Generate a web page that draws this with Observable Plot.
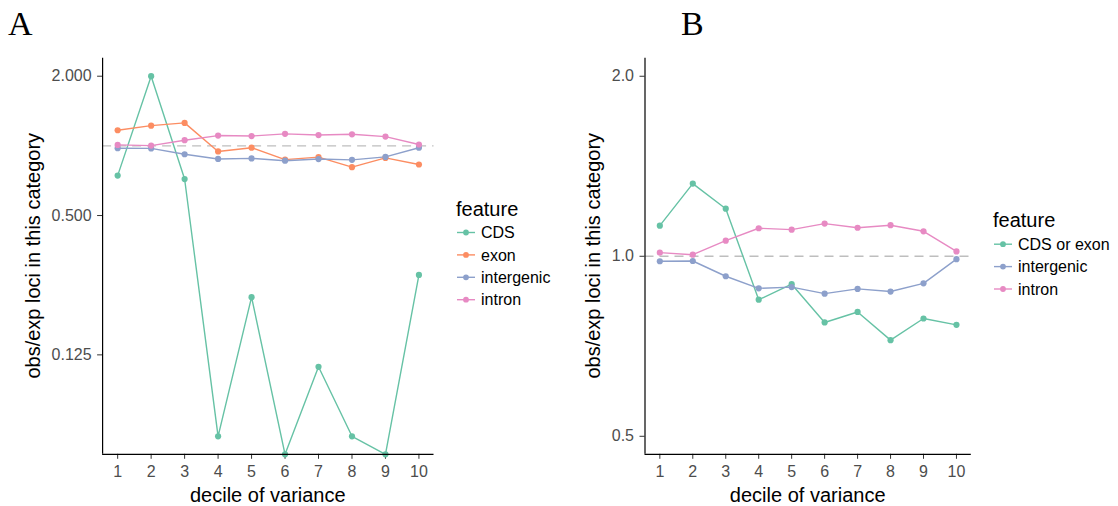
<!DOCTYPE html>
<html>
<head>
<meta charset="utf-8">
<script src="https://cdn.jsdelivr.net/npm/d3@7"></script>
<script src="https://cdn.jsdelivr.net/npm/@observablehq/plot@0.6"></script>
<style>
  body { margin: 0; background: #fff; }
  #fig { position: relative; width: 1118px; height: 506px; overflow: hidden; background: #fff; }
  .panel { position: absolute; top: 0; }
  .panel svg text { font-family: "Liberation Sans", Arial, sans-serif; font-size: 16px; fill: #4d4d4d; }
  #overlay { position: absolute; left: 0; top: 0; pointer-events: none; }
  #overlay text { font-family: "Liberation Sans", Arial, sans-serif; fill: #000; }
  #overlay .tag { font-family: "Liberation Serif", "DejaVu Serif", serif; font-size: 34px; }
  #overlay .title { font-size: 20px; }
  #overlay .item { font-size: 16px; }
</style>
</head>
<body>
<div id="fig">
  <div class="panel" id="panelA" style="left:0px"></div>
  <div class="panel" id="panelB" style="left:540px"></div>
</div>
<script>
// Deciles of variance (x axis)
const deciles = [1, 2, 3, 4, 5, 6, 7, 8, 9, 10];

// Panel A: obs/exp loci per feature (0 = no loci observed)
const featuresA = ["CDS", "exon", "intergenic", "intron"];
const cdsA        = [0.744, 2.000, 0.719, 0.0556, 0.222, 0, 0.111, 0.0556, 0, 0.277];
const exonA       = [1.168, 1.223, 1.257, 0.946, 0.982, 0.872, 0.894, 0.809, 0.887, 0.831];
const intergenicA = [0.977, 0.975, 0.920, 0.878, 0.883, 0.863, 0.877, 0.870, 0.896, 0.982];
const intronA     = [1.010, 1.003, 1.058, 1.108, 1.103, 1.127, 1.114, 1.122, 1.097, 1.014];

// Panel B: CDS and exon pooled
const featuresB = ["CDS or exon", "intergenic", "intron"];
const cdsExonB    = [1.125, 1.323, 1.201, 0.846, 0.898, 0.775, 0.807, 0.724, 0.787, 0.768];
const intergenicB = [0.981, 0.982, 0.926, 0.884, 0.888, 0.866, 0.882, 0.873, 0.901, 0.989];
const intronB     = [1.014, 1.006, 1.062, 1.114, 1.108, 1.134, 1.116, 1.127, 1.101, 1.019];

// Axis ticks
const xTicks = deciles;
const yTicksA = [0.125, 0.5, 2];
const yTicksB = [0.5, 1, 2];

// Axis and legend text
const xTitle = "decile of variance";
const yTitle = "obs/exp loci in this category";
const legendTitle = "feature";
const panelTags = ["A", "B"];

// Set2 palette
const colorsA = ["#66c2a5", "#fc8d62", "#8da0cb", "#e78ac3"];
const colorsB = ["#66c2a5", "#8da0cb", "#e78ac3"];

function tidy(features, series) {
  const rows = [];
  features.forEach((f, k) => {
    deciles.forEach((d, i) => rows.push({feature: f, decile: d, value: series[k][i]}));
  });
  return rows;
}

const dataA = tidy(featuresA, [cdsA, exonA, intergenicA, intronA]);
const dataB = tidy(featuresB, [cdsExonB, intergenicB, intronB]);

const xDomain = [0.55, 10.45];

function panel({data, features, colors, yDomain, yTicks, fmt, marginLeft, marginRight}) {
  return Plot.plot({
    width: 445,
    height: 506,
    marginLeft,
    marginRight,
    marginTop: 57.7,
    marginBottom: 52.2,
    style: {background: "transparent", color: "#333", overflow: "visible"},
    x: {type: "linear", domain: xDomain, ticks: xTicks, tickFormat: d => String(d),
        tickSize: 5, tickPadding: 6, label: null},
    y: {type: "log", domain: yDomain, clamp: true, ticks: yTicks, tickFormat: fmt,
        tickSize: 5, tickPadding: 6, label: null},
    color: {domain: features, range: colors},
    marks: [
      Plot.ruleY([1], {stroke: "#bebebe", strokeWidth: 1.3, strokeDasharray: "9,6"}),
      Plot.line(data, {x: "decile", y: "value", stroke: "feature", strokeWidth: 1.4}),
      Plot.dot(data, {x: "decile", y: "value", fill: "feature", r: 3.1}),
      Plot.ruleX([xDomain[0]], {stroke: "#000", strokeWidth: 1.2}),
      Plot.ruleY([yDomain[0]], {stroke: "#000", strokeWidth: 1.2})
    ]
  });
}

document.getElementById("panelA").appendChild(panel({
  data: dataA, features: featuresA, colors: colorsA,
  yDomain: [0.04648, 2.3926], yTicks: yTicksA, fmt: d3.format(".3f"),
  marginLeft: 102.1, marginRight: 11.5
}));

document.getElementById("panelB").appendChild(panel({
  data: dataB, features: featuresB, colors: colorsB,
  yDomain: [0.4665, 2.144], yTicks: yTicksB, fmt: d3.format(".1f"),
  marginLeft: 104.5, marginRight: 14.2
}));

// Titles, panel tags and legends
const svg = d3.select("#fig").append("svg")
  .attr("id", "overlay").attr("width", 1118).attr("height", 506);

const panelsLayout = [
  {tag: panelTags[0], tagX: 8, xMid: 267.8, yTitleX: 40, legX: 456, legTitleY: 216,
   firstRowY: 232.5, features: featuresA, colors: colorsA},
  {tag: panelTags[1], tagX: 681, xMid: 807.7, yTitleX: 600, legX: 993, legTitleY: 226.7,
   firstRowY: 244.2, features: featuresB, colors: colorsB}
];

const panelMidY = (57.7 + 453.8) / 2;

for (const p of panelsLayout) {
  svg.append("text").attr("class", "tag").attr("x", p.tagX).attr("y", 35).text(p.tag);
  svg.append("text").attr("class", "title").attr("text-anchor", "middle")
    .attr("x", p.xMid).attr("y", 501.5).text(xTitle);
  svg.append("text").attr("class", "title").attr("text-anchor", "middle")
    .attr("transform", `translate(${p.yTitleX},${panelMidY}) rotate(-90)`).text(yTitle);
  svg.append("text").attr("class", "title").attr("x", p.legX).attr("y", p.legTitleY).text(legendTitle);
  p.features.forEach((f, i) => {
    const cy = p.firstRowY + i * 22.4;
    svg.append("line").attr("x1", p.legX + 1).attr("x2", p.legX + 19)
      .attr("y1", cy).attr("y2", cy).attr("stroke", p.colors[i]).attr("stroke-width", 1.4);
    svg.append("circle").attr("cx", p.legX + 10).attr("cy", cy).attr("r", 2.9).attr("fill", p.colors[i]);
    svg.append("text").attr("class", "item").attr("x", p.legX + 25).attr("y", cy + 5.7).text(f);
  });
}
</script>
</body>
</html>
